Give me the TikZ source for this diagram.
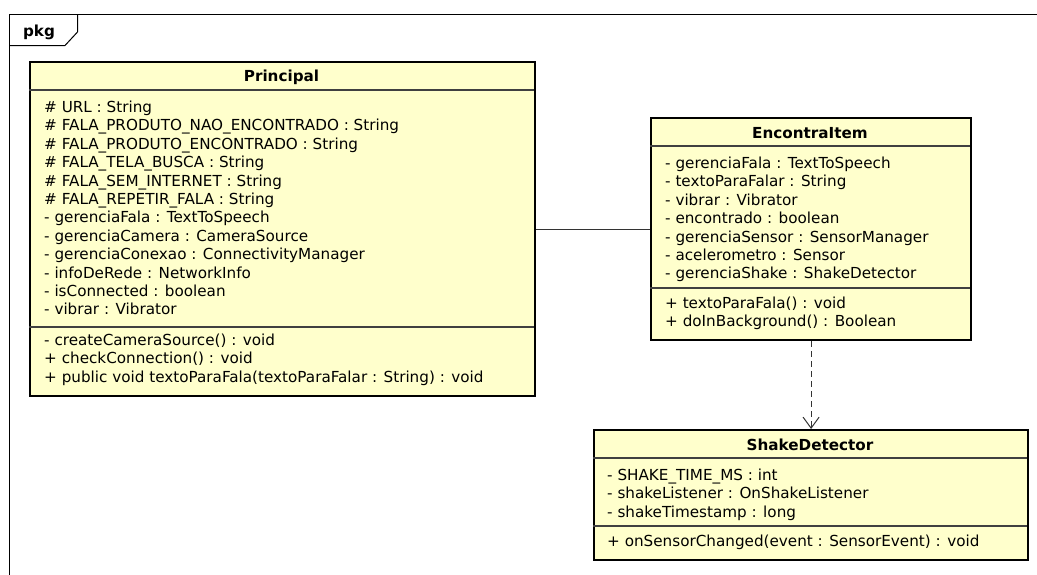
\documentclass[tikz,border=0pt]{standalone}
\usepackage{fontspec}
\setmainfont{DejaVu Sans}
\usetikzlibrary{arrows.meta}
\definecolor{classfill}{HTML}{FFFFCC}
\tikzset{
  classbox/.style={draw=black, line width=2.2pt, fill=classfill, inner sep=0pt, anchor=north west},
  sepline/.style={line width=1.3pt, draw=black!75},
  txt/.style={anchor=base west, inner sep=0pt, align=left, font=\fontsize{15.2}{18.4}\selectfont},
  ttl/.style={anchor=base, inner sep=0pt, font=\fontsize{15.2}{18.4}\selectfont\bfseries},
  frameline/.style={line width=1pt, draw=black},
  assoc/.style={line width=1pt, draw=black!80},
  depend/.style={line width=1pt, draw=black!80, dash pattern=on 6pt off 4pt, -{Straight Barb[length=11pt,width=16pt,line width=1pt]}},
}
\begin{document}
\begin{tikzpicture}[x=1pt,y=-1pt]
\useasboundingbox (0,0) rectangle (1037,574);
\fill[white] (0,0) rectangle (1037,574);
% package frame
\draw[frameline] (1040,14) -- (9,14) -- (9,580);
\draw[frameline] (77.5,14) -- (77.5,32) -- (65,45.5) -- (9,45.5);
\node[ttl, font=\fontsize{15.2}{18}\selectfont\bfseries] (pkg) at (39,36) {pkg};

% Principal
\node[classbox, minimum width=505pt, minimum height=334pt] (principal) at (29,61) {};
\draw[sepline] (29,90) -- (534,90);
\draw[sepline] (29,327) -- (534,327);
\node[ttl] (ptitle) at (281.5,81) {Principal};
\node[txt] (pattr) at (44,314.9) {\# URL : String\\
\# FALA\_PRODUTO\_NAO\_ENCONTRADO : String\\
\# FALA\_PRODUTO\_ENCONTRADO : String\\
\# FALA\_TELA\_BUSCA : String\\
\# FALA\_SEM\_INTERNET : String\\
\# FALA\_REPETIR\_FALA : String\\
- gerenciaFala : TextToSpeech\\
- gerenciaCamera : CameraSource\\
- gerenciaConexao : ConnectivityManager\\
- infoDeRede : NetworkInfo\\
- isConnected : boolean\\
- vibrar : Vibrator};
\node[txt] (pmeth) at (44,382.3) {- createCameraSource() : void\\
+ checkConnection() : void\\
+ public void textoParaFala(textoParaFalar : String) : void};

% EncontraItem
\node[classbox, minimum width=320pt, minimum height=222pt] (encontra) at (650,117) {};
\draw[sepline] (650,146) -- (970,146);
\draw[sepline] (650,288) -- (970,288);
\node[ttl] (etitle) at (810,138.5) {EncontraItem};
\node[txt] (eattr) at (665,278.9) {- gerenciaFala : TextToSpeech\\
- textoParaFalar : String\\
- vibrar : Vibrator\\
- encontrado : boolean\\
- gerenciaSensor : SensorManager\\
- acelerometro : Sensor\\
- gerenciaShake : ShakeDetector};
\node[txt] (emeth) at (665,326.9) {+ textoParaFala() : void\\
+ doInBackground() : Boolean};

% ShakeDetector
\node[classbox, minimum width=434pt, minimum height=130pt] (shake) at (593,429) {};
\draw[sepline] (593,458) -- (1027,458);
\draw[sepline] (593,526) -- (1027,526);
\node[ttl] (stitle) at (810,450.5) {ShakeDetector};
\node[txt] (sattr) at (607,517.3) {- SHAKE\_TIME\_MS : int\\
- shakeListener : OnShakeListener\\
- shakeTimestamp : long};
\node[txt] (smeth) at (607,546.5) {+ onSensorChanged(event : SensorEvent) : void};

% connectors
\draw[assoc] (principal.east) -- (encontra.west);
\draw[depend] (encontra.south) -- (shake.north);
\end{tikzpicture}
\end{document}
